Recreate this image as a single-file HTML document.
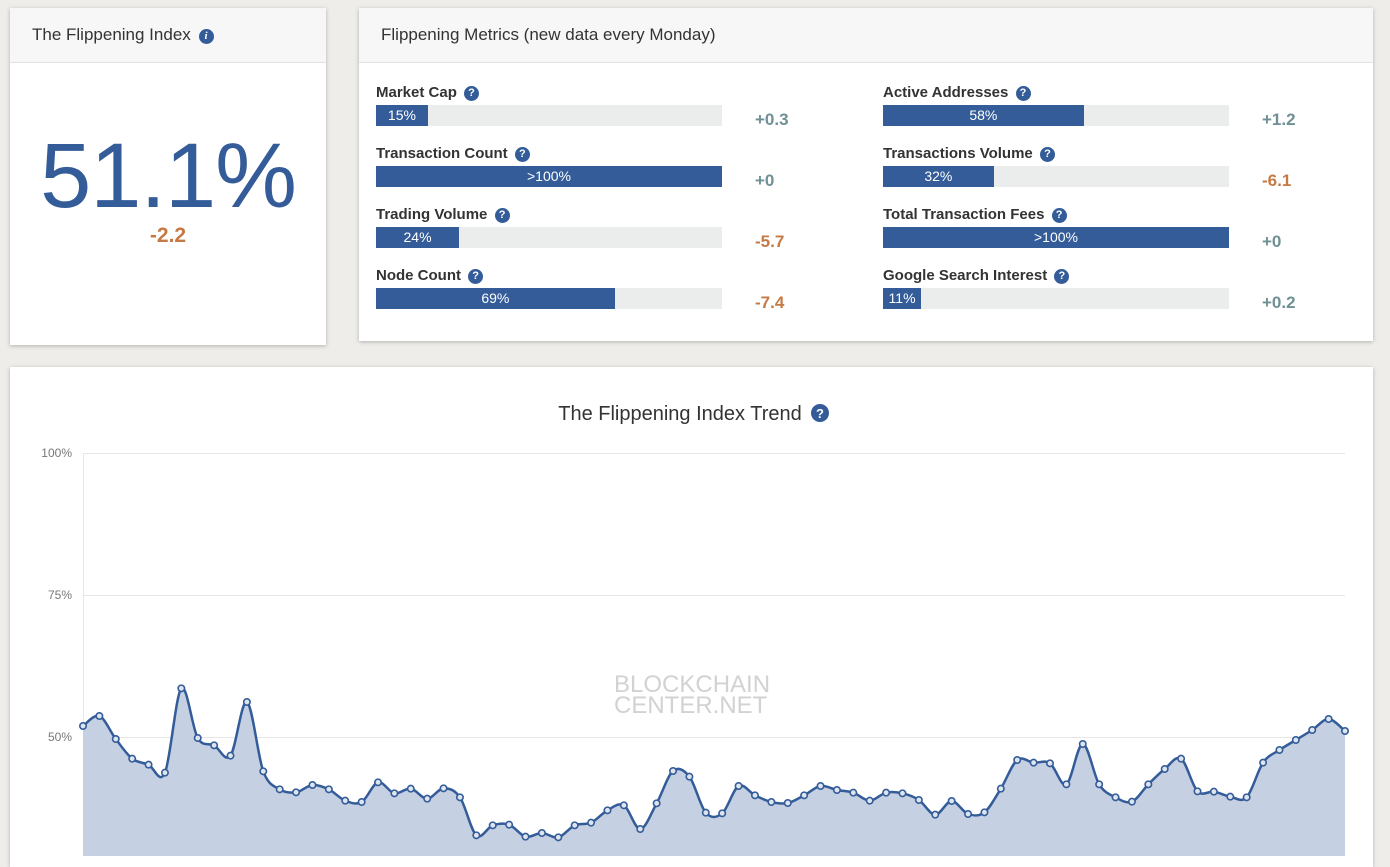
<!DOCTYPE html>
<html><head><meta charset="utf-8"><style>
body{margin:0;width:1390px;height:856px;background:#eeede9;font-family:"Liberation Sans",sans-serif;position:relative;overflow:hidden}
.card{position:absolute;background:#fff;box-shadow:0 1px 4px rgba(0,0,0,.25)}
.hd{height:54px;background:#f7f7f8;border-bottom:1px solid #e2e2e2;font-size:17px;color:#333;line-height:54px;padding-left:22px}
.q{display:inline-block;width:15px;height:15px;border-radius:50%;background:#335c99;color:#fff;font-size:11px;font-weight:bold;text-align:center;line-height:15px;vertical-align:1px;margin-left:3px}
.lbl{position:absolute;font-size:15px;font-weight:bold;color:#333}
.bar{position:absolute;width:346px;height:21px;background:#ebecec}
.fill{height:21px;background:#335c99;color:#fff;font-size:14px;line-height:21px;text-align:center}
.chg{position:absolute;font-size:17px;font-weight:bold}
.p{color:#6f9094}.n{color:#c57a45}
</style></head><body>
<div class="card" style="left:10px;top:8px;width:316px;height:337px">
<div class="hd">The Flippening Index <span class="q" style="font-style:italic;font-family:'Liberation Serif',serif">i</span></div>
<div style="position:absolute;left:0;width:316px;top:122px;text-align:center;font-size:92px;color:#335c99;line-height:92px;letter-spacing:-1px">51.1%</div>
<div style="position:absolute;left:0;width:316px;top:216px;text-align:center;font-size:21px;font-weight:bold;color:#c57a45">-2.2</div>
</div>
<div class="card" style="left:359px;top:8px;width:1014px;height:333px">
<div class="hd">Flippening Metrics (new data every Monday)</div>
</div>
<div id="m"></div>
<div class="card" style="left:10px;top:367px;width:1363px;height:500px"></div>
<svg style="position:absolute;left:0;top:0" width="1390" height="856" id="ch">
<text x="680" y="420" text-anchor="middle" font-size="20" fill="#333" font-family="Liberation Sans">The Flippening Index Trend</text>
<circle cx="820" cy="413" r="9" fill="#335c99"/><text x="820" y="418" text-anchor="middle" font-size="13" font-weight="bold" fill="#fff" font-family="Liberation Sans">?</text>
<g font-size="12" fill="#777" font-family="Liberation Sans" text-anchor="end">
<text x="72" y="457">100%</text><text x="72" y="599">75%</text><text x="72" y="741">50%</text></g>
<g stroke="#e6e6e6"><line x1="83" x2="1345" y1="453.5" y2="453.5"/><line x1="83" x2="1345" y1="595.5" y2="595.5"/><line x1="83" x2="1345" y1="737.5" y2="737.5"/><line x1="83.5" x2="83.5" y1="453" y2="856"/></g>
<g font-size="24" fill="#d2d2d2" font-family="Liberation Sans"><text x="614" y="692">BLOCKCHAIN</text><text x="614" y="713">CENTER.NET</text></g>
<path id="area" fill="#c5d0e3"/><path id="line" fill="none" stroke="#335c99" stroke-width="2.5"/><g id="pts"></g>
</svg>
<script>
var m=[["Market Cap",15,"15%","+0.3",0],["Transaction Count",100,">100%","+0",0],["Trading Volume",24,"24%","-5.7",1],["Node Count",69,"69%","-7.4",1],
["Active Addresses",58,"58%","+1.2",0],["Transactions Volume",32,"32%","-6.1",1],["Total Transaction Fees",100,">100%","+0",0],["Google Search Interest",11,"11%","+0.2",0]];
var h="";m.forEach(function(d,i){var c=i>3?1:0,r=i%4,x=c?883:376,y=84+r*61;var w=Math.max(d[1]/100*346,36);
h+='<div class="lbl" style="left:'+x+'px;top:'+y+'px">'+d[0]+' <span class="q">?</span></div>';
h+='<div class="bar" style="left:'+x+'px;top:'+(y+21)+'px"><div class="fill" style="width:'+w+'px">'+d[2]+'</div></div>';
h+='<div class="chg '+(d[4]?'n':'p')+'" style="left:'+(c?1262:755)+'px;top:'+(y+26)+'px">'+d[3]+'</div>';});
document.getElementById('m').innerHTML=h;
var a=[168,138,207,266,284,308,55,204,226,257,96,304,358,367,345,358,392,396,337,370,356,386,355,382,496,466,464,500,489,502,466,458,421,406,477,400,303,320,428,
430,348,376,396,399,376,348,360,368,392,368,370,390,434,393,432,427,356,270,278,280,343,222,343,382,395,343,297,266,364,365,380,382,278,240,210,180,147,183];
var n=a.length,P=a.map(function(v,i){return[83+i*(1345-83)/(n-1),670+v/3]});
var d="M"+P[0][0]+","+P[0][1];
for(var i=0;i<n-1;i++){var p0=P[Math.max(i-1,0)],p1=P[i],p2=P[i+1],p3=P[Math.min(i+2,n-1)],t=0.5/3;
d+="C"+(p1[0]+(p2[0]-p0[0])*t)+","+(p1[1]+(p2[1]-p0[1])*t)+" "+(p2[0]-(p3[0]-p1[0])*t)+","+(p2[1]-(p3[1]-p1[1])*t)+" "+p2[0]+","+p2[1];}
document.getElementById('line').setAttribute('d',d);
document.getElementById('area').setAttribute('d',d+"L1345,860L83,860Z");
var s="";P.forEach(function(p){s+='<circle cx="'+p[0]+'" cy="'+p[1]+'" r="3.2" fill="#dfe5ef" stroke="#335c99" stroke-width="1.6"/>'});
document.getElementById('pts').innerHTML=s;
</script>
</body></html>
